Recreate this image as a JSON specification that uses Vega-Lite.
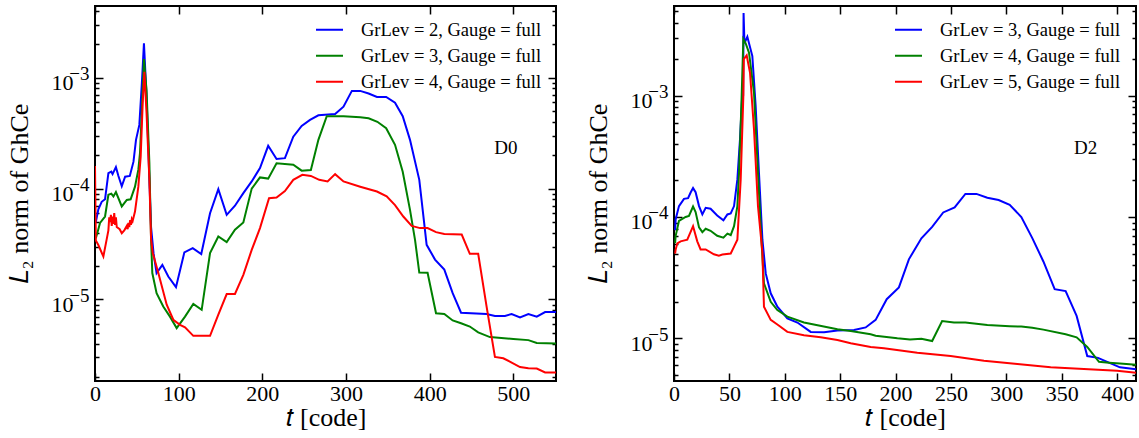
{
"$schema": "https://vega.github.io/schema/vega-lite/v6.json",
"background": "white",
"padding": {"left": 5, "top": 4, "right": 2, "bottom": 2},
"spacing": 26,
"datasets": {
"d0": [
{"t":1,"v":5.0e-5,"g":2},{"t":4,"v":6.5e-5,"g":2},{"t":8,"v":7.6e-5,"g":2},{"t":12,"v":8.0e-5,"g":2},{"t":16,"v":1.38e-4,"g":2},{"t":19.5,"v":1.42e-4,"g":2},{"t":21,"v":1.35e-4,"g":2},{"t":25,"v":1.56e-4,"g":2},{"t":28,"v":1.3e-4,"g":2},{"t":32,"v":1.05e-4,"g":2},{"t":36,"v":1.28e-4,"g":2},{"t":41.6,"v":1.3e-4,"g":2},{"t":46,"v":1.75e-4,"g":2},{"t":49,"v":2.75e-4,"g":2},{"t":53,"v":3.75e-4,"g":2},{"t":56,"v":8.9e-4,"g":2},{"t":58.5,"v":2.04e-3,"g":2},{"t":61.6,"v":6.8e-4,"g":2},{"t":65,"v":1.2e-4,"g":2},{"t":67,"v":4.5e-5,"g":2},{"t":70,"v":2.6e-5,"g":2},{"t":73.6,"v":1.73e-5,"g":2},{"t":80.5,"v":2.05e-5,"g":2},{"t":87.6,"v":1.61e-5,"g":2},{"t":96.8,"v":1.29e-5,"g":2},{"t":106.8,"v":2.66e-5,"g":2},{"t":116.8,"v":2.9e-5,"g":2},{"t":127,"v":2.57e-5,"g":2},{"t":137.5,"v":6.0e-5,"g":2},{"t":147.4,"v":9.86e-5,"g":2},{"t":157.4,"v":5.8e-5,"g":2},{"t":167.3,"v":7.0e-5,"g":2},{"t":177.3,"v":9.1e-5,"g":2},{"t":187.3,"v":1.16e-4,"g":2},{"t":197.2,"v":1.53e-4,"g":2},{"t":207,"v":2.43e-4,"g":2},{"t":217,"v":1.85e-4,"g":2},{"t":227,"v":1.88e-4,"g":2},{"t":237,"v":2.94e-4,"g":2},{"t":247,"v":3.67e-4,"g":2},{"t":257,"v":4.16e-4,"g":2},{"t":267,"v":4.58e-4,"g":2},{"t":287,"v":4.7e-4,"g":2},{"t":297,"v":5.48e-4,"g":2},{"t":307,"v":7.6e-4,"g":2},{"t":317,"v":7.6e-4,"g":2},{"t":327,"v":7.2e-4,"g":2},{"t":337,"v":6.7e-4,"g":2},{"t":348,"v":6.7e-4,"g":2},{"t":358.6,"v":5.95e-4,"g":2},{"t":367.8,"v":4.5e-4,"g":2},{"t":376.5,"v":2.75e-4,"g":2},{"t":387.6,"v":1.2e-4,"g":2},{"t":396.4,"v":3.11e-5,"g":2},{"t":406.4,"v":2.29e-5,"g":2},{"t":417.5,"v":1.86e-5,"g":2},{"t":427.5,"v":1.14e-5,"g":2},{"t":437.5,"v":7.6e-6,"g":2},{"t":468,"v":7.4e-6,"g":2},{"t":478,"v":7.1e-6,"g":2},{"t":490,"v":7.1e-6,"g":2},{"t":498,"v":7.4e-6,"g":2},{"t":508,"v":6.9e-6,"g":2},{"t":518,"v":7.4e-6,"g":2},{"t":528,"v":7.0e-6,"g":2},{"t":538,"v":7.7e-6,"g":2},{"t":551,"v":7.7e-6,"g":2},
{"t":1,"v":3.57e-5,"g":3},{"t":4,"v":4.3e-5,"g":3},{"t":6,"v":4.9e-5,"g":3},{"t":12,"v":5.6e-5,"g":3},{"t":16,"v":8.8e-5,"g":3},{"t":19.5,"v":9.0e-5,"g":3},{"t":22,"v":8.5e-5,"g":3},{"t":25,"v":9.3e-5,"g":3},{"t":32,"v":6.9e-5,"g":3},{"t":38,"v":7.9e-5,"g":3},{"t":42.6,"v":8.0e-5,"g":3},{"t":47.8,"v":1.04e-4,"g":3},{"t":51.8,"v":1.48e-4,"g":3},{"t":53.8,"v":2.1e-4,"g":3},{"t":55.7,"v":4.5e-4,"g":3},{"t":58.5,"v":1.47e-3,"g":3},{"t":61.6,"v":7.7e-4,"g":3},{"t":65,"v":1.7e-4,"g":3},{"t":67,"v":3.5e-5,"g":3},{"t":68.5,"v":1.73e-5,"g":3},{"t":73.6,"v":1.14e-5,"g":3},{"t":81.6,"v":8.65e-6,"g":3},{"t":89.6,"v":7.0e-6,"g":3},{"t":97.6,"v":5.52e-6,"g":3},{"t":107.6,"v":7.0e-6,"g":3},{"t":117.5,"v":9.1e-6,"g":3},{"t":127.5,"v":8.07e-6,"g":3},{"t":137.5,"v":2.62e-5,"g":3},{"t":147.4,"v":3.7e-5,"g":3},{"t":157.4,"v":3.29e-5,"g":3},{"t":167.3,"v":4.25e-5,"g":3},{"t":177.3,"v":4.94e-5,"g":3},{"t":187.3,"v":1.0e-4,"g":3},{"t":197.2,"v":1.26e-4,"g":3},{"t":207,"v":1.23e-4,"g":3},{"t":217,"v":1.69e-4,"g":3},{"t":237,"v":1.64e-4,"g":3},{"t":247,"v":1.45e-4,"g":3},{"t":258,"v":1.47e-4,"g":3},{"t":267,"v":2.75e-4,"g":3},{"t":277,"v":4.5e-4,"g":3},{"t":297,"v":4.5e-4,"g":3},{"t":317,"v":4.4e-4,"g":3},{"t":327,"v":4.3e-4,"g":3},{"t":337.5,"v":4.0e-4,"g":3},{"t":348,"v":3.5e-4,"g":3},{"t":358.6,"v":2.48e-4,"g":3},{"t":367.8,"v":1.42e-4,"g":3},{"t":376.5,"v":6.43e-5,"g":3},{"t":382.5,"v":3.45e-5,"g":3},{"t":387.6,"v":1.75e-5,"g":3},{"t":397.5,"v":1.74e-5,"g":3},{"t":407.6,"v":7.5e-6,"g":3},{"t":417.5,"v":7.4e-6,"g":3},{"t":427.5,"v":6.47e-6,"g":3},{"t":437.5,"v":6.1e-6,"g":3},{"t":448,"v":5.7e-6,"g":3},{"t":458,"v":5.05e-6,"g":3},{"t":472,"v":4.58e-6,"g":3},{"t":500,"v":4.4e-6,"g":3},{"t":518,"v":4.3e-6,"g":3},{"t":528,"v":4.05e-6,"g":3},{"t":551,"v":4.0e-6,"g":3},
{"t":0,"v":1.6e-4,"g":4},{"t":1,"v":3.4e-5,"g":4},{"t":4,"v":3.1e-5,"g":4},{"t":10,"v":2.44e-5,"g":4},{"t":14,"v":3.5e-5,"g":4},{"t":16,"v":4.2e-5,"g":4},{"t":17,"v":5.5e-5,"g":4},{"t":18,"v":5.0e-5,"g":4},{"t":19,"v":5.8e-5,"g":4},{"t":20,"v":4.6e-5,"g":4},{"t":21,"v":5.6e-5,"g":4},{"t":22,"v":4.8e-5,"g":4},{"t":23,"v":6.0e-5,"g":4},{"t":24,"v":4.7e-5,"g":4},{"t":25,"v":5.5e-5,"g":4},{"t":26,"v":4.5e-5,"g":4},{"t":29.5,"v":4.3e-5,"g":4},{"t":32,"v":3.96e-5,"g":4},{"t":35,"v":4.2e-5,"g":4},{"t":38,"v":4.6e-5,"g":4},{"t":39,"v":4.3e-5,"g":4},{"t":40,"v":4.9e-5,"g":4},{"t":41,"v":4.5e-5,"g":4},{"t":42,"v":5.2e-5,"g":4},{"t":43,"v":4.7e-5,"g":4},{"t":44,"v":5.3e-5,"g":4},{"t":45,"v":5.1e-5,"g":4},{"t":47.8,"v":6.2e-5,"g":4},{"t":51.8,"v":1.04e-4,"g":4},{"t":54.6,"v":1.94e-4,"g":4},{"t":57,"v":5.9e-4,"g":4},{"t":59,"v":1.13e-3,"g":4},{"t":61.6,"v":4.8e-4,"g":4},{"t":65,"v":1.2e-4,"g":4},{"t":67,"v":3.5e-5,"g":4},{"t":69,"v":2.63e-5,"g":4},{"t":75.7,"v":1.73e-5,"g":4},{"t":85.7,"v":8.96e-6,"g":4},{"t":93.6,"v":6.56e-6,"g":4},{"t":101.6,"v":5.9e-6,"g":4},{"t":107.6,"v":5.6e-6,"g":4},{"t":117.5,"v":4.7e-6,"g":4},{"t":137.5,"v":4.7e-6,"g":4},{"t":147.4,"v":7.3e-6,"g":4},{"t":157.4,"v":1.12e-5,"g":4},{"t":167.3,"v":1.12e-5,"g":4},{"t":177.3,"v":1.67e-5,"g":4},{"t":187.3,"v":2.8e-5,"g":4},{"t":197.2,"v":4.4e-5,"g":4},{"t":208,"v":8.2e-5,"g":4},{"t":217,"v":8.3e-5,"g":4},{"t":227,"v":9.5e-5,"g":4},{"t":237,"v":1.2e-4,"g":4},{"t":247.8,"v":1.33e-4,"g":4},{"t":258,"v":1.3e-4,"g":4},{"t":268,"v":1.2e-4,"g":4},{"t":278,"v":1.16e-4,"g":4},{"t":287,"v":1.35e-4,"g":4},{"t":297,"v":1.16e-4,"g":4},{"t":317,"v":1.04e-4,"g":4},{"t":337,"v":9.4e-5,"g":4},{"t":348.6,"v":8.5e-5,"g":4},{"t":358.6,"v":7.1e-5,"g":4},{"t":368.5,"v":5.6e-5,"g":4},{"t":378.5,"v":4.6e-5,"g":4},{"t":388.5,"v":4.4e-5,"g":4},{"t":397.5,"v":4.4e-5,"g":4},{"t":407.6,"v":4.05e-5,"g":4},{"t":417.5,"v":3.9e-5,"g":4},{"t":438.3,"v":3.85e-5,"g":4},{"t":448,"v":2.58e-5,"g":4},{"t":458,"v":2.58e-5,"g":4},{"t":468,"v":8.65e-6,"g":4},{"t":478,"v":3.03e-6,"g":4},{"t":488,"v":2.95e-6,"g":4},{"t":498,"v":2.7e-6,"g":4},{"t":508,"v":2.46e-6,"g":4},{"t":518,"v":2.4e-6,"g":4},{"t":528,"v":2.38e-6,"g":4},{"t":538,"v":2.2e-6,"g":4},{"t":551,"v":2.2e-6,"g":4}
],
"d2": [
{"t":1,"v":7.8e-5,"g":3},{"t":1.5,"v":9.6e-5,"g":3},{"t":4.5,"v":1.23e-4,"g":3},{"t":9,"v":1.41e-4,"g":3},{"t":12.7,"v":1.43e-4,"g":3},{"t":15,"v":1.59e-4,"g":3},{"t":17.2,"v":1.73e-4,"g":3},{"t":19.5,"v":1.6e-4,"g":3},{"t":22.6,"v":1.23e-4,"g":3},{"t":25.6,"v":1.05e-4,"g":3},{"t":28.6,"v":1.19e-4,"g":3},{"t":33,"v":1.17e-4,"g":3},{"t":39,"v":1.03e-4,"g":3},{"t":44.6,"v":9.4e-5,"g":3},{"t":48.2,"v":1.05e-4,"g":3},{"t":51.2,"v":1.07e-4,"g":3},{"t":54.2,"v":1.23e-4,"g":3},{"t":57.2,"v":2.04e-4,"g":3},{"t":59.6,"v":4.4e-4,"g":3},{"t":61.4,"v":9.4e-4,"g":3},{"t":62.4,"v":1.0e-3,"g":3},{"t":62.8,"v":4.8e-3,"g":3},{"t":63.6,"v":2.7e-3,"g":3},{"t":66.2,"v":3.06e-3,"g":3},{"t":70.7,"v":2.12e-3,"g":3},{"t":73.7,"v":8.2e-4,"g":3},{"t":76.7,"v":2.3e-4,"g":3},{"t":79.8,"v":6.5e-5,"g":3},{"t":82.8,"v":3.43e-5,"g":3},{"t":87.3,"v":2.35e-5,"g":3},{"t":93.3,"v":1.82e-5,"g":3},{"t":102.3,"v":1.46e-5,"g":3},{"t":111.4,"v":1.35e-5,"g":3},{"t":123.4,"v":1.13e-5,"g":3},{"t":135.5,"v":1.12e-5,"g":3},{"t":147.5,"v":1.16e-5,"g":3},{"t":162.5,"v":1.17e-5,"g":3},{"t":173,"v":1.23e-5,"g":3},{"t":182,"v":1.42e-5,"g":3},{"t":192,"v":2.1e-5,"g":3},{"t":203,"v":2.63e-5,"g":3},{"t":212,"v":4.48e-5,"g":3},{"t":223.3,"v":6.67e-5,"g":3},{"t":233,"v":8.3e-5,"g":3},{"t":243,"v":1.09e-4,"g":3},{"t":253.3,"v":1.2e-4,"g":3},{"t":263,"v":1.55e-4,"g":3},{"t":273,"v":1.55e-4,"g":3},{"t":282.8,"v":1.44e-4,"g":3},{"t":293,"v":1.38e-4,"g":3},{"t":303,"v":1.26e-4,"g":3},{"t":313.5,"v":1.0e-4,"g":3},{"t":323.4,"v":6.7e-5,"g":3},{"t":333.4,"v":4.3e-5,"g":3},{"t":343.6,"v":2.54e-5,"g":3},{"t":353.5,"v":2.45e-5,"g":3},{"t":363.4,"v":1.53e-5,"g":3},{"t":373,"v":7.15e-6,"g":3},{"t":382.7,"v":6.9e-6,"g":3},{"t":392.6,"v":6.3e-6,"g":3},{"t":402.5,"v":5.77e-6,"g":3},{"t":417,"v":5.55e-6,"g":3},
{"t":1,"v":6.07e-5,"g":4},{"t":1.5,"v":7.0e-5,"g":4},{"t":4.5,"v":9.3e-5,"g":4},{"t":10.5,"v":1.0e-4,"g":4},{"t":13.5,"v":1.02e-4,"g":4},{"t":17.2,"v":1.22e-4,"g":4},{"t":19.5,"v":1.1e-4,"g":4},{"t":22.6,"v":8.2e-5,"g":4},{"t":25.6,"v":7.5e-5,"g":4},{"t":28.6,"v":8.0e-5,"g":4},{"t":33,"v":7.7e-5,"g":4},{"t":39,"v":7.0e-5,"g":4},{"t":44.6,"v":6.76e-5,"g":4},{"t":48.2,"v":7.3e-5,"g":4},{"t":51.2,"v":7.1e-5,"g":4},{"t":54.2,"v":8.4e-5,"g":4},{"t":57.2,"v":1.23e-4,"g":4},{"t":58.7,"v":2.3e-4,"g":4},{"t":60.8,"v":8.2e-4,"g":4},{"t":62.6,"v":2.92e-3,"g":4},{"t":64.7,"v":2.7e-3,"g":4},{"t":67.7,"v":2.26e-3,"g":4},{"t":72.2,"v":1.06e-3,"g":4},{"t":75.8,"v":2.3e-4,"g":4},{"t":78.9,"v":6.5e-5,"g":4},{"t":81.2,"v":2.84e-5,"g":4},{"t":87.3,"v":2.0e-5,"g":4},{"t":93.3,"v":1.71e-5,"g":4},{"t":102.3,"v":1.51e-5,"g":4},{"t":117.3,"v":1.35e-5,"g":4},{"t":147.5,"v":1.19e-5,"g":4},{"t":159.5,"v":1.15e-5,"g":4},{"t":177.5,"v":1.08e-5,"g":4},{"t":182,"v":1.05e-5,"g":4},{"t":201.6,"v":1.0e-5,"g":4},{"t":213,"v":9.8e-6,"g":4},{"t":223.3,"v":9.9e-6,"g":4},{"t":233,"v":9.5e-6,"g":4},{"t":242,"v":1.39e-5,"g":4},{"t":252.7,"v":1.35e-5,"g":4},{"t":263,"v":1.35e-5,"g":4},{"t":282.8,"v":1.29e-5,"g":4},{"t":303,"v":1.26e-5,"g":4},{"t":313.5,"v":1.25e-5,"g":4},{"t":323.4,"v":1.22e-5,"g":4},{"t":333.4,"v":1.18e-5,"g":4},{"t":353.5,"v":1.08e-5,"g":4},{"t":363.4,"v":1.02e-5,"g":4},{"t":373,"v":8.5e-6,"g":4},{"t":383.6,"v":6.4e-6,"g":4},{"t":392.6,"v":6.3e-6,"g":4},{"t":402.5,"v":6.2e-6,"g":4},{"t":417,"v":6.05e-6,"g":4},
{"t":1,"v":5.0e-5,"g":5},{"t":1.5,"v":5.4e-5,"g":5},{"t":3,"v":6.07e-5,"g":5},{"t":6,"v":6.3e-5,"g":5},{"t":12,"v":6.5e-5,"g":5},{"t":17.2,"v":8.4e-5,"g":5},{"t":21,"v":6.3e-5,"g":5},{"t":24,"v":5.4e-5,"g":5},{"t":28.6,"v":5.4e-5,"g":5},{"t":36,"v":4.93e-5,"g":5},{"t":40.5,"v":4.8e-5,"g":5},{"t":43.7,"v":4.9e-5,"g":5},{"t":51.2,"v":5.0e-5,"g":5},{"t":54.2,"v":5.7e-5,"g":5},{"t":57.2,"v":6.5e-5,"g":5},{"t":60.2,"v":2.04e-4,"g":5},{"t":62.6,"v":1.0e-3,"g":5},{"t":63,"v":2.0e-3,"g":5},{"t":65.6,"v":2.15e-3,"g":5},{"t":68.6,"v":1.55e-3,"g":5},{"t":72.2,"v":5.3e-4,"g":5},{"t":75.8,"v":1.23e-4,"g":5},{"t":79.8,"v":5.1e-5,"g":5},{"t":81.2,"v":1.82e-5,"g":5},{"t":87.3,"v":1.42e-5,"g":5},{"t":93.3,"v":1.3e-5,"g":5},{"t":102.3,"v":1.13e-5,"g":5},{"t":117.3,"v":1.06e-5,"g":5},{"t":132.4,"v":1.02e-5,"g":5},{"t":147.5,"v":9.7e-6,"g":5},{"t":159.5,"v":9.1e-6,"g":5},{"t":177.5,"v":8.5e-6,"g":5},{"t":189.5,"v":8.3e-6,"g":5},{"t":219.6,"v":7.6e-6,"g":5},{"t":249.7,"v":7.15e-6,"g":5},{"t":279.8,"v":6.53e-6,"g":5},{"t":309.9,"v":6.14e-6,"g":5},{"t":340,"v":5.77e-6,"g":5},{"t":370,"v":5.6e-6,"g":5},{"t":400,"v":5.4e-6,"g":5},{"t":417,"v":5.2e-6,"g":5}
]
},
"hconcat": [
{
"width": 461, "height": 375,
"layer": [
{
"data": {"name": "d0"},
"mark": {"type": "line", "strokeWidth": 2, "clip": true},
"encoding": {
"x": {"field": "t", "type": "quantitative", "scale": {"domain": [0, 551], "nice": false, "zero": false},
 "axis": {"orient": "bottom", "values": [0,100,200,300,400,500], "format": "d", "title": "𝑡  [code]", "labelFlush": false, "tickSize": -8, "labelPadding": 10, "titleY": 36, "titleBaseline": "middle"}},
"y": {"field": "v", "type": "quantitative", "scale": {"type": "log", "domain": [1.84e-6, 4.43e-3], "nice": false},
 "axis": {"orient": "left", "values": [2e-6,3e-6,4e-6,5e-6,6e-6,7e-6,8e-6,9e-6,1e-5,2e-5,3e-5,4e-5,5e-5,6e-5,7e-5,8e-5,9e-5,1e-4,2e-4,3e-4,4e-4,5e-4,6e-4,7e-4,8e-4,9e-4,1e-3,2e-3,3e-3,4e-3],
  "labelExpr": "datum.value == 1e-5 || datum.value == 1e-4 || datum.value == 1e-3 ? '10' : ''",
  "tickSize": {"condition": {"test": "datum.value == 1e-5 || datum.value == 1e-4 || datum.value == 1e-3", "value": -8}, "value": -4},
  "labelPadding": 30, "labelOffset": 5, "title": "𝐿₂ norm of GhCe", "titlePadding": 19}},
"color": {"field": "g", "type": "nominal", "scale": {"domain": [2,3,4], "range": ["#0000ff", "#008000", "#ff0000"]},
 "legend": {"orient": "none", "legendX": 220, "legendY": 11, "labelExpr": "'GrLev = ' + datum.label + ', Gauge = full'"}}
}
},
{
"data": {"values": [{"t": 491, "v": 2.33e-4, "label": "D0"}]},
"mark": {"type": "text", "font": "Liberation Serif", "fontSize": 19, "color": "black"},
"encoding": {
"x": {"field": "t", "type": "quantitative", "axis": {"orient": "top", "values": [0,100,200,300,400,500], "labels": false, "title": null, "tickSize": -8}},
"y": {"field": "v", "type": "quantitative", "axis": {"orient": "left", "values": [1e-5,1e-4,1e-3], "ticks": false, "title": null,
  "labelExpr": "datum.value == 1e-5 ? '−5' : datum.value == 1e-4 ? '−4' : '−3'", "labelFontSize": 19, "labelPadding": 6, "labelOffset": -4}},
"text": {"field": "label"}
}
},
{
"data": {"values": [{"t": 491, "v": 2.33e-4, "label": ""}]},
"mark": {"type": "text", "opacity": 0},
"encoding": {
"x": {"field": "t", "type": "quantitative", "axis": null},
"y": {"field": "v", "type": "quantitative", "axis": {"orient": "right", "values": [2e-6,3e-6,4e-6,5e-6,6e-6,7e-6,8e-6,9e-6,1e-5,2e-5,3e-5,4e-5,5e-5,6e-5,7e-5,8e-5,9e-5,1e-4,2e-4,3e-4,4e-4,5e-4,6e-4,7e-4,8e-4,9e-4,1e-3,2e-3,3e-3,4e-3], "labels": false, "title": null,
  "tickSize": {"condition": {"test": "datum.value == 1e-5 || datum.value == 1e-4 || datum.value == 1e-3", "value": -8}, "value": -4}}},
"text": {"field": "label"}
}
}
],
"resolve": {"axis": {"x": "independent", "y": "independent"}}
},
{
"width": 462, "height": 375,
"layer": [
{
"data": {"name": "d2"},
"mark": {"type": "line", "strokeWidth": 2, "clip": true},
"encoding": {
"x": {"field": "t", "type": "quantitative", "scale": {"domain": [0, 417], "nice": false, "zero": false},
 "axis": {"orient": "bottom", "values": [0,50,100,150,200,250,300,350,400], "format": "d", "title": "𝑡  [code]", "labelFlush": false, "tickSize": -8, "labelPadding": 10, "titleY": 36, "titleBaseline": "middle"}},
"y": {"field": "v", "type": "quantitative", "scale": {"type": "log", "domain": [4.45e-6, 5.48e-3], "nice": false},
 "axis": {"orient": "left", "values": [5e-6,6e-6,7e-6,8e-6,9e-6,1e-5,2e-5,3e-5,4e-5,5e-5,6e-5,7e-5,8e-5,9e-5,1e-4,2e-4,3e-4,4e-4,5e-4,6e-4,7e-4,8e-4,9e-4,1e-3,2e-3,3e-3,4e-3,5e-3],
  "labelExpr": "datum.value == 1e-5 || datum.value == 1e-4 || datum.value == 1e-3 ? '10' : ''",
  "tickSize": {"condition": {"test": "datum.value == 1e-5 || datum.value == 1e-4 || datum.value == 1e-3", "value": -8}, "value": -4},
  "labelPadding": 30, "labelOffset": 5, "title": "𝐿₂ norm of GhCe", "titlePadding": 19}},
"color": {"field": "g", "type": "nominal", "scale": {"domain": [3,4,5], "range": ["#0000ff", "#008000", "#ff0000"]},
 "legend": {"orient": "none", "legendX": 220, "legendY": 11, "labelExpr": "'GrLev = ' + datum.label + ', Gauge = full'"}}
}
},
{
"data": {"values": [{"t": 371.5, "v": 3.7e-4, "label": "D2"}]},
"mark": {"type": "text", "font": "Liberation Serif", "fontSize": 19, "color": "black"},
"encoding": {
"x": {"field": "t", "type": "quantitative", "axis": {"orient": "top", "values": [0,50,100,150,200,250,300,350,400], "labels": false, "title": null, "tickSize": -8}},
"y": {"field": "v", "type": "quantitative", "axis": {"orient": "left", "values": [1e-5,1e-4,1e-3], "ticks": false, "title": null,
  "labelExpr": "datum.value == 1e-5 ? '−5' : datum.value == 1e-4 ? '−4' : '−3'", "labelFontSize": 19, "labelPadding": 6, "labelOffset": -4}},
"text": {"field": "label"}
}
},
{
"data": {"values": [{"t": 371.5, "v": 3.7e-4, "label": ""}]},
"mark": {"type": "text", "opacity": 0},
"encoding": {
"x": {"field": "t", "type": "quantitative", "axis": null},
"y": {"field": "v", "type": "quantitative", "axis": {"orient": "right", "values": [5e-6,6e-6,7e-6,8e-6,9e-6,1e-5,2e-5,3e-5,4e-5,5e-5,6e-5,7e-5,8e-5,9e-5,1e-4,2e-4,3e-4,4e-4,5e-4,6e-4,7e-4,8e-4,9e-4,1e-3,2e-3,3e-3,4e-3,5e-3], "labels": false, "title": null,
  "tickSize": {"condition": {"test": "datum.value == 1e-5 || datum.value == 1e-4 || datum.value == 1e-3", "value": -8}, "value": -4}}},
"text": {"field": "label"}
}
}
],
"resolve": {"axis": {"x": "independent", "y": "independent"}}
}
],
"resolve": {"scale": {"color": "independent"}},
"config": {
"view": {"stroke": "black", "strokeWidth": 2},
"font": "Liberation Serif",
"axis": {"domain": false, "grid": false, "tickColor": "black", "tickWidth": 1.5, "labelColor": "black", "titleColor": "black", "labelFont": "Liberation Serif", "titleFont": "Liberation Serif", "labelFontSize": 22, "titleFontSize": 26, "titleFontWeight": "normal"},
"legend": {"title": null, "symbolType": "stroke", "symbolSize": 729, "symbolStrokeWidth": 2, "labelFont": "Liberation Serif", "labelFontSize": 18.5, "labelColor": "black", "labelOffset": 17, "rowPadding": 0, "padding": 0, "clipHeight": 25.5, "labelLimit": 400}
}
}
